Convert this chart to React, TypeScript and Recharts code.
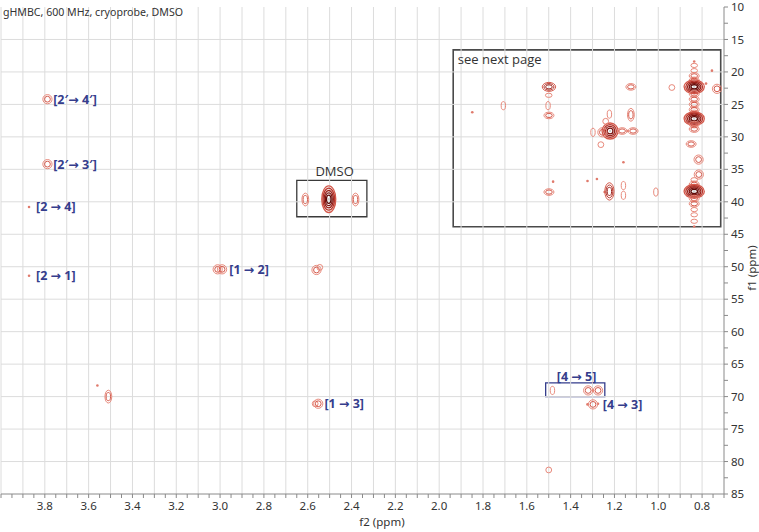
import React from "react";
import {
  ScatterChart,
  Scatter,
  XAxis,
  YAxis,
  ReferenceLine,
  ReferenceArea,
} from "recharts";

const title = "gHMBC, 600 MHz, cryoprobe, DMSO";

// axis labels (ppm)
const xLabels = [3.8, 3.6, 3.4, 3.2, 3.0, 2.8, 2.6, 2.4, 2.2, 2.0, 1.8, 1.6, 1.4, 1.2, 1.0, 0.8];
const yLabels = [10, 15, 20, 25, 30, 35, 40, 45, 50, 55, 60, 65, 70, 75, 80, 85];

// cross peaks: [f2, f1, contour levels]
const roundPeaks = [
  [3.788, 24.2, 2],
  [3.788, 34.2, 2],
  [3.011, 50.4, 2],
  [2.991, 50.4, 2],
  [2.56, 50.5, 2],
  [2.545, 50.1, 1],
  [2.566, 71.1, 1],
  [2.552, 71.1, 2],
  [1.32, 69.05, 2],
  [1.275, 69.05, 2],
  [1.298, 71.2, 2],
  [1.5, 81.3, 1],
  [0.938, 22.4, 1],
  [0.732, 22.6, 2],
  [1.22, 29.1, 4],
  [1.255, 29.3, 2],
  [1.262, 31.2, 1],
  [1.24, 27.6, 1],
  [0.816, 33.5, 2],
  [0.815, 35.8, 2],
];

const tallPeaks = [
  [3.51, 70.0, 2],
  [1.483, 69.05, 1],
  [2.611, 39.65, 2],
  [2.382, 39.65, 2],
  [2.504, 39.6, 5],
  [1.707, 25.2, 1],
  [1.503, 25.2, 1],
  [1.223, 26.5, 1],
  [1.298, 29.3, 1],
  [1.125, 26.6, 2],
  [1.223, 38.4, 3],
  [1.159, 37.5, 1],
  [1.159, 39.0, 1],
  [1.011, 38.5, 1],
];

const widePeaks = [
  [1.499, 22.3, 3],
  [1.5, 23.6, 1],
  [1.499, 26.7, 2],
  [1.125, 22.3, 2],
  [1.165, 29.1, 2],
  [1.115, 29.1, 2],
  [1.499, 38.5, 2],
  [0.85, 31.1, 2],
  // methyl column at 0.84 ppm
  [0.836, 19.0, 1],
  [0.836, 19.8, 1],
  [0.836, 20.6, 2],
  [0.836, 21.3, 2],
  [0.836, 22.3, 5],
  [0.836, 23.4, 2],
  [0.836, 24.2, 2],
  [0.836, 25.0, 2],
  [0.836, 25.8, 2],
  [0.836, 26.4, 2],
  [0.836, 27.2, 5],
  [0.836, 28.1, 2],
  [0.836, 28.8, 2],
  [0.836, 36.6, 1],
  [0.836, 37.3, 2],
  [0.836, 38.4, 5],
  [0.836, 39.5, 2],
  [0.836, 40.3, 2],
  [0.836, 41.2, 1],
  [0.836, 42.0, 1],
  [0.836, 43.0, 1],
];

const dotPeaks = [
  [3.872, 40.8],
  [3.872, 51.4],
  [3.56, 68.3],
  [1.298, 69.05],
  [1.323, 71.2],
  [1.275, 71.1],
  [1.849, 26.2],
  [0.782, 21.8],
  [0.755, 19.8],
  [1.14, 29.1],
  [1.159, 33.9],
  [1.323, 36.8],
  [1.28, 36.5],
  [1.48, 36.9],
  [1.245, 38.5],
  [0.836, 18.4],
  [0.836, 43.8],
];

// assignments: [text, f2 start, f1]
const assignments = [
  ["[2′→ 4′]", 3.762, 24.3],
  ["[2′→ 3′]", 3.762, 34.3],
  ["[2 → 4]", 3.84, 40.8],
  ["[2 → 1]", 3.84, 51.4],
  ["[1 → 2]", 2.958, 50.4],
  ["[1 → 3]", 2.524, 71.1],
  ["[4 → 5]", 1.463, 66.9],
  ["[4 → 3]", 1.253, 71.2],
];

const notes = [
  ["DMSO", 2.565, 35.3],
  ["see next page", 1.915, 18.0],
];

const dmsoBox = [2.65, 2.33, 36.7, 42.3];
const nextPageBox = [1.936, 0.715, 16.6, 43.85];
const h4Box = [1.514, 1.244, 67.9, 70.0];

const xTicks: number[] = [];
for (let i = 14; i <= 80; i++) xTicks.push(i / 20);
const yTicks: number[] = [];
for (let i = 4; i <= 34; i++) yTicks.push(i * 2.5);
const gridX: number[] = [];
for (let i = 8; i <= 40; i++) gridX.push(i / 10);
const gridY = yLabels.slice(1, -1);

const toPts = (arr: number[][]) => arr.map(([x, y, lv]) => ({ x, y, lv }));

const RING = ["#e8897b", "#d4594b", "#b8362c", "#99221b", "#7a110d", "#5e0907"];
const GEOM: Record<string, { rx0: number; rx: number; ry0: number; ry: number }> = {
  round: { rx0: 1.2, rx: 1.7, ry0: 1.2, ry: 1.7 },
  tall: { rx0: 1.0, rx: 1.2, ry0: 1.8, ry: 2.3 },
  wide: { rx0: 1.6, rx: 1.7, ry0: 0.9, ry: 1.2 },
};

const contour = (kind: string) => (props: any) => {
  const { cx, cy, payload } = props;
  if (typeof cx !== "number" || typeof cy !== "number") return <g />;
  const lv = payload.lv;
  const g = GEOM[kind];
  const rings = [];
  for (let k = lv; k >= 1; k--) {
    const depth = lv - k + (lv >= 3 ? 1 : 0);
    rings.push(
      <ellipse
        key={k}
        cx={cx}
        cy={cy}
        rx={g.rx0 + g.rx * k}
        ry={g.ry0 + g.ry * k}
        fill="none"
        stroke={RING[Math.min(depth, 5)]}
        strokeWidth={lv >= 4 ? 1.3 : 1}
      />
    );
  }
  if (lv >= 4) rings.push(<circle key="c" cx={cx} cy={cy} r={1.2} fill="#cfcfcf" />);
  return <g>{rings}</g>;
};

const dotShape = (props: any) => {
  const { cx, cy } = props;
  if (typeof cx !== "number") return <g />;
  return <circle cx={cx} cy={cy} r={1.3} fill="#e07a6c" />;
};

const blueLabel = (props: any) => {
  const { cx, cy, payload } = props;
  if (typeof cx !== "number") return <g />;
  return (
    <text x={cx} y={cy} dy="0.36em" fill="#353d8c" fontSize={12.5} fontWeight={700} fontFamily="'Open Sans', 'DejaVu Sans', sans-serif">
      {payload.text}
    </text>
  );
};

const grayNote = (props: any) => {
  const { cx, cy, payload } = props;
  if (typeof cx !== "number") return <g />;
  return (
    <text x={cx} y={cy} dy="0.36em" fill="#333" fontSize={13} fontFamily="'Open Sans', sans-serif">
      {payload.text}
    </text>
  );
};

const XTick = (props: any) => {
  const { x, y, payload } = props;
  const show = xLabels.some((v) => Math.abs(v - payload.value) < 1e-6);
  if (!show) return <g />;
  return (
    <text x={x} y={y + 10} textAnchor="middle" fill="#333" fontSize={11.5} fontFamily="'Noto Sans', sans-serif">
      {payload.value.toFixed(1)}
    </text>
  );
};

const YTick = (props: any) => {
  const { x, y, payload } = props;
  const show = yLabels.includes(payload.value);
  if (!show) return <g />;
  return (
    <text x={x} y={y} dy="0.36em" textAnchor="start" fill="#333" fontSize={11.5} fontFamily="'Noto Sans', sans-serif">
      {payload.value}
    </text>
  );
};

export default function App() {
  const labelPts = assignments.map(([text, x, y]) => ({ text, x, y }));
  const notePts = notes.map(([text, x, y]) => ({ text, x, y }));
  const boxStyle = { fill: "none", fillOpacity: 0 };

  return (
    <div style={{ position: "absolute", left: 0, top: 0, width: 759, height: 532, background: "#fff" }}>
      <ScatterChart width={759} height={532} margin={{ top: 7, right: 0, bottom: 0, left: 1 }}>
        <XAxis
          type="number"
          dataKey="x"
          domain={[0.7, 4.0]}
          reversed
          allowDataOverflow
          ticks={xTicks}
          interval={0}
          height={38}
          tickSize={4}
          axisLine={{ stroke: "#8a8a8a" }}
          tickLine={{ stroke: "#8a8a8a" }}
          tick={<XTick />}
          label={{
            content: () => (
              <text x={382} y={526} textAnchor="middle" fill="#333" fontSize={11.5} fontFamily="'Noto Sans', sans-serif">
                f2 (ppm)
              </text>
            ),
          }}
        />
        <YAxis
          type="number"
          dataKey="y"
          domain={[10, 85]}
          reversed
          allowDataOverflow
          orientation="right"
          ticks={yTicks}
          interval={0}
          width={35}
          tickSize={4}
          tickMargin={3}
          axisLine={{ stroke: "#8a8a8a" }}
          tickLine={{ stroke: "#8a8a8a" }}
          tick={<YTick />}
          label={{
            content: () => (
              <text x={752} y={268} transform="rotate(-90 752 268)" textAnchor="middle" dy="0.36em" fill="#333" fontSize={11.5} fontFamily="'Noto Sans', sans-serif">
                f1 (ppm)
              </text>
            ),
          }}
        />
        {gridX.map((v) => (
          <ReferenceLine key={"gx" + v} x={v} stroke="#dcdcdc" strokeWidth={1} />
        ))}
        {gridY.map((v) => (
          <ReferenceLine key={"gy" + v} y={v} stroke="#dcdcdc" strokeWidth={1} />
        ))}
        <ReferenceArea x1={dmsoBox[0]} x2={dmsoBox[1]} y1={dmsoBox[2]} y2={dmsoBox[3]} {...boxStyle} stroke="#3a3a3a" strokeWidth={1.3} />
        <ReferenceArea x1={nextPageBox[0]} x2={nextPageBox[1]} y1={nextPageBox[2]} y2={nextPageBox[3]} {...boxStyle} stroke="#4a4a4a" strokeWidth={1.6} />
        <ReferenceArea x1={h4Box[0]} x2={h4Box[1]} y1={h4Box[2]} y2={h4Box[3]} {...boxStyle} stroke="#353d8c" strokeWidth={1.3} />
        <Scatter data={toPts(dotPeaks)} shape={dotShape} isAnimationActive={false} />
        <Scatter data={toPts(roundPeaks)} shape={contour("round")} isAnimationActive={false} />
        <Scatter data={toPts(tallPeaks)} shape={contour("tall")} isAnimationActive={false} />
        <Scatter data={toPts(widePeaks)} shape={contour("wide")} isAnimationActive={false} />
        <Scatter data={labelPts} shape={blueLabel} isAnimationActive={false} />
        <Scatter data={notePts} shape={grayNote} isAnimationActive={false} />
      </ScatterChart>
      <div
        style={{
          position: "absolute",
          left: 3,
          top: 5,
          fontFamily: "'Noto Sans', sans-serif",
          fontSize: 10.6,
          color: "#333",
          lineHeight: "14px",
          whiteSpace: "nowrap",
        }}
      >
        {title}
      </div>
    </div>
  );
}
